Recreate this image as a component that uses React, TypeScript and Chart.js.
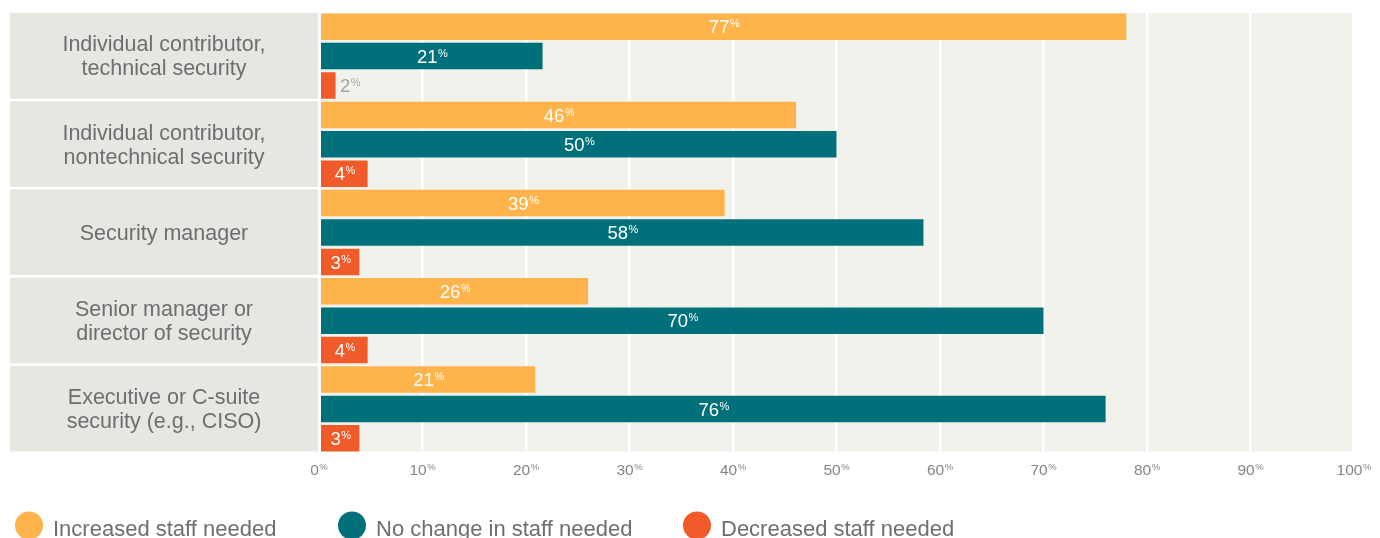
import React, { useEffect, useRef } from "react";
import { Chart, registerables } from "chart.js";

Chart.register(...registerables);

// ---------- data ----------
const categories: string[][] = [
  ["Individual contributor,", "technical security"],
  ["Individual contributor,", "nontechnical security"],
  ["Security manager"],
  ["Senior manager or", "director of security"],
  ["Executive or C-suite", "security (e.g., CISO)"],
];
const seriesNames = ["Increased staff needed", "No change in staff needed", "Decreased staff needed"];
// bar lengths
const increasedValues = [78, 46.1, 39.2, 26, 20.9];
const noChangeValues = [21.6, 50, 58.4, 70, 76];
const decreasedValues = [1.6, 4.7, 3.9, 4.7, 3.9];
// printed labels
const increasedLabels = ["77", "46", "39", "26", "21"];
const noChangeLabels = ["21", "50", "58", "70", "76"];
const decreasedLabels = ["2", "4", "3", "4", "3"];
const xMin = 0;
const xMax = 100;
const xStep = 10;

// ---------- style ----------
const FONT = '"Liberation Sans", Arial, Helvetica, sans-serif';
const COLORS = ["#FFB44B", "#00717A", "#F15A29"];
const PLOT_BG = "#F1F2EC";
const PANEL_BG = "#E6E7E1";
const TEXT = "#6D6E71";
const TICK_TEXT = "#858585";
const OUTSIDE_TEXT = "#A3A3A3";
const LEGEND_X = [29, 352, 697];

const labelSets = [increasedLabels, noChangeLabels, decreasedLabels];

function drawPct(
  ctx: CanvasRenderingContext2D,
  num: string,
  x: number,
  baseline: number,
  numSize: number,
  pctSize: number,
  raise: number,
  color: string,
  align: "center" | "left"
) {
  ctx.textAlign = "left";
  ctx.textBaseline = "alphabetic";
  ctx.fillStyle = color;
  ctx.font = `${numSize}px ${FONT}`;
  const w1 = ctx.measureText(num).width;
  ctx.font = `${pctSize}px ${FONT}`;
  const w2 = ctx.measureText("%").width;
  const total = w1 + 0.5 + w2;
  const start = align === "center" ? x - total / 2 : x;
  ctx.font = `${numSize}px ${FONT}`;
  ctx.fillText(num, start, baseline);
  ctx.font = `${pctSize}px ${FONT}`;
  ctx.fillText("%", start + w1 + 0.5, baseline - raise);
  return total;
}

function measurePct(ctx: CanvasRenderingContext2D, num: string, numSize: number, pctSize: number) {
  ctx.font = `${numSize}px ${FONT}`;
  const w1 = ctx.measureText(num).width;
  ctx.font = `${pctSize}px ${FONT}`;
  const w2 = ctx.measureText("%").width;
  return w1 + 0.5 + w2;
}

const decorPlugin = {
  id: "decor",
  beforeDraw(chart: any) {
    const { ctx, chartArea: ca, scales } = chart;
    const y = scales.y;
    ctx.save();
    ctx.fillStyle = "#FFFFFF";
    ctx.fillRect(0, 0, chart.width, chart.height);
    ctx.fillStyle = PLOT_BG;
    ctx.fillRect(ca.left, ca.top + 1, ca.right - 2 - ca.left, ca.bottom - ca.top - 2.5);
    categories.forEach((lines, i) => {
      const t = y.getPixelForValue(i - 0.5);
      const b = y.getPixelForValue(i + 0.5);
      ctx.fillStyle = PANEL_BG;
      ctx.fillRect(10, t + 1, ca.left - 1 - 10, b - t - 2.5);
      const c = (t + b) / 2 - 0.5;
      ctx.fillStyle = TEXT;
      ctx.font = `21.5px ${FONT}`;
      ctx.textAlign = "center";
      ctx.textBaseline = "alphabetic";
      const cx = (10 + ca.left - 1) / 2;
      const n = lines.length;
      lines.forEach((line, k) => {
        const base = c + (k - (n - 1) / 2) * 24 + 7.7;
        ctx.fillText(line, cx, base);
      });
    });
    ctx.restore();
  },
  afterDatasetsDraw(chart: any) {
    const { ctx, chartArea: ca, scales } = chart;
    const x = scales.x;
    ctx.save();
    // white separator at the zero line, over the bars
    const x0 = x.getPixelForValue(0);
    ctx.fillStyle = "#FFFFFF";
    ctx.fillRect(x0, ca.top, 2, ca.bottom - ca.top);
    // value labels
    chart.data.datasets.forEach((ds: any, d: number) => {
      const meta = chart.getDatasetMeta(d);
      meta.data.forEach((el: any, i: number) => {
        const p = el.getProps(["x", "y", "base"], true);
        const num = labelSets[d][i];
        const w = measurePct(ctx, num, 18.5, 11);
        const barW = p.x - p.base;
        const baseline = p.y + 6.6;
        if (barW >= w + 8) {
          drawPct(ctx, num, (p.x + p.base) / 2 + 1, baseline, 18.5, 11, 6, "#FFFFFF", "center");
        } else {
          drawPct(ctx, num, p.x + 4.5, baseline, 18.5, 11, 6, OUTSIDE_TEXT, "left");
        }
      });
    });
    ctx.restore();
  },
  afterDraw(chart: any) {
    const { ctx, scales } = chart;
    const x = scales.x;
    ctx.save();
    // x tick labels
    x.ticks.forEach((tk: any) => {
      const px = x.getPixelForValue(tk.value);
      drawPct(ctx, String(tk.value), px, 475, 15.5, 9.5, 5, TICK_TEXT, "center");
    });
    // legend
    seriesNames.forEach((name, i) => {
      const cx = LEGEND_X[i];
      ctx.beginPath();
      ctx.arc(cx, 525.5, 14, 0, Math.PI * 2);
      ctx.fillStyle = COLORS[i];
      ctx.fill();
      ctx.fillStyle = TEXT;
      ctx.font = `22px ${FONT}`;
      ctx.textAlign = "left";
      ctx.textBaseline = "alphabetic";
      ctx.fillText(name, cx + 24, 536);
    });
    ctx.restore();
  },
};

export default function App() {
  const canvasRef = useRef<HTMLCanvasElement | null>(null);

  useEffect(() => {
    if (!canvasRef.current) return;
    const chart = new Chart(canvasRef.current, {
      type: "bar",
      data: {
        labels: categories.map((c) => c.join(" ")),
        datasets: [
          { label: seriesNames[0], data: increasedValues, backgroundColor: COLORS[0] },
          { label: seriesNames[1], data: noChangeValues, backgroundColor: COLORS[1] },
          { label: seriesNames[2], data: decreasedValues, backgroundColor: COLORS[2] },
        ],
      },
      options: {
        indexAxis: "y",
        animation: false,
        responsive: true,
        maintainAspectRatio: false,
        layout: { padding: { top: 12, right: 26, bottom: 0, left: 0 } },
        datasets: {
          bar: { categoryPercentage: 1, barPercentage: 0.9, borderWidth: 0 },
        },
        plugins: {
          legend: { display: false },
          tooltip: { enabled: false },
        },
        scales: {
          x: {
            min: xMin,
            max: xMax,
            ticks: { display: false, stepSize: xStep },
            grid: { color: "#FFFFFF", lineWidth: 2.5, drawTicks: false },
            border: { display: false },
            afterFit: (s: any) => {
              s.height = 85;
            },
          },
          y: {
            ticks: { display: false },
            grid: { display: false, drawTicks: false },
            border: { display: false },
            afterFit: (s: any) => {
              s.width = 319;
            },
          },
        },
      } as any,
      plugins: [decorPlugin],
    });
    return () => chart.destroy();
  }, []);

  return (
    <div style={{ position: "absolute", left: 0, top: 0, width: 1380, height: 538, background: "#fff" }}>
      <canvas ref={canvasRef} />
    </div>
  );
}
